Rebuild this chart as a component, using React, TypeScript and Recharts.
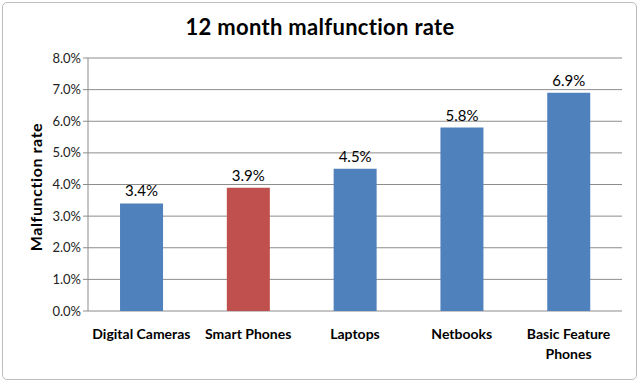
import React from "react";
import {
  BarChart,
  Bar,
  XAxis,
  YAxis,
  CartesianGrid,
  LabelList,
  Cell,
  Text,
} from "recharts";

const categories = [
  "Digital Cameras",
  "Smart Phones",
  "Laptops",
  "Netbooks",
  "Basic Feature Phones",
];
const rates = [3.4, 3.9, 4.5, 5.8, 6.9];
const highlighted = "Smart Phones";
const yTicks = [0, 1, 2, 3, 4, 5, 6, 7, 8];
const boundaryTicks = [0, 1, 2, 3, 4, 5];

const FONT = "Lato, 'Open Sans', sans-serif";
const COLORS = { normal: "#4F81BD", highlight: "#C0504D", grid: "#8C8C8C" };

const data = categories.map((name, i) => ({ name, rate: rates[i] }));

function CategoryTick(props: any) {
  const { x, y, payload } = props;
  return (
    <Text
      x={x}
      y={y + 10}
      width={118}
      lineHeight={20}
      textAnchor="middle"
      verticalAnchor="start"
      fontFamily={FONT}
      fontSize={14}
      fontWeight={700}
      fill="#000"
    >
      {payload.value}
    </Text>
  );
}

function BoundaryTick(props: any) {
  const { x, y } = props;
  return <line x1={x} x2={x} y1={y - 8} y2={y - 3} stroke={COLORS.grid} />;
}

export default function App() {
  return (
    <div style={{ position: "absolute", left: 0, top: 0, width: 640, height: 383, background: "#fff" }}>
      <div
        style={{
          position: "absolute",
          left: 2,
          top: 2,
          width: 633,
          height: 376,
          border: "1px solid #BDBDBD",
          borderRadius: 5,
        }}
      />
      <div
        style={{
          position: "absolute",
          left: 0,
          top: 13,
          width: 640,
          textAlign: "center",
          fontFamily: FONT,
          fontWeight: 700,
          fontSize: 22,
          letterSpacing: 0.3,
          color: "#000",
        }}
      >
        12 month malfunction rate
      </div>
      <div
        style={{
          position: "absolute",
          left: 35,
          top: 187,
          transform: "translate(-50%, -50%) rotate(-90deg)",
          fontFamily: FONT,
          fontWeight: 700,
          fontSize: 16,
          letterSpacing: 0.6,
          whiteSpace: "nowrap",
          color: "#000",
        }}
      >
        Malfunction rate
      </div>
      <div style={{ position: "absolute", left: 0, top: 0 }}>
        <BarChart
          width={640}
          height={383}
          data={data}
          margin={{ top: 58, right: 18, left: 0, bottom: 10 }}
          barCategoryGap="30%"
        >
          <CartesianGrid vertical={false} stroke={COLORS.grid} />
          <XAxis
            xAxisId="bounds"
            type="number"
            domain={[0, 5]}
            ticks={boundaryTicks}
            height={0}
            axisLine={{ stroke: COLORS.grid }}
            tickLine={false}
            tick={<BoundaryTick />}
          />
          <XAxis
            xAxisId="cat"
            dataKey="name"
            height={62}
            axisLine={false}
            tickLine={false}
            interval={0}
            tick={<CategoryTick />}
          />
          <YAxis
            width={88}
            domain={[0, 8]}
            ticks={yTicks}
            tickFormatter={(v) => `${Number(v).toFixed(1)}%`}
            tick={{ fontFamily: FONT, fontSize: 13, fill: "#222" }}
            axisLine={{ stroke: COLORS.grid }}
            tickLine={{ stroke: COLORS.grid }}
            tickSize={5}
          />
          <Bar dataKey="rate" xAxisId="cat" isAnimationActive={false}>
            {data.map((d) => (
              <Cell
                key={d.name}
                fill={d.name === highlighted ? COLORS.highlight : COLORS.normal}
              />
            ))}
            <LabelList
              dataKey="rate"
              position="top"
              offset={7}
              formatter={(v: any) => `${Number(v).toFixed(1)}%`}
              style={{ fontFamily: FONT, fontSize: 15, fill: "#000" }}
            />
          </Bar>
        </BarChart>
      </div>
    </div>
  );
}
